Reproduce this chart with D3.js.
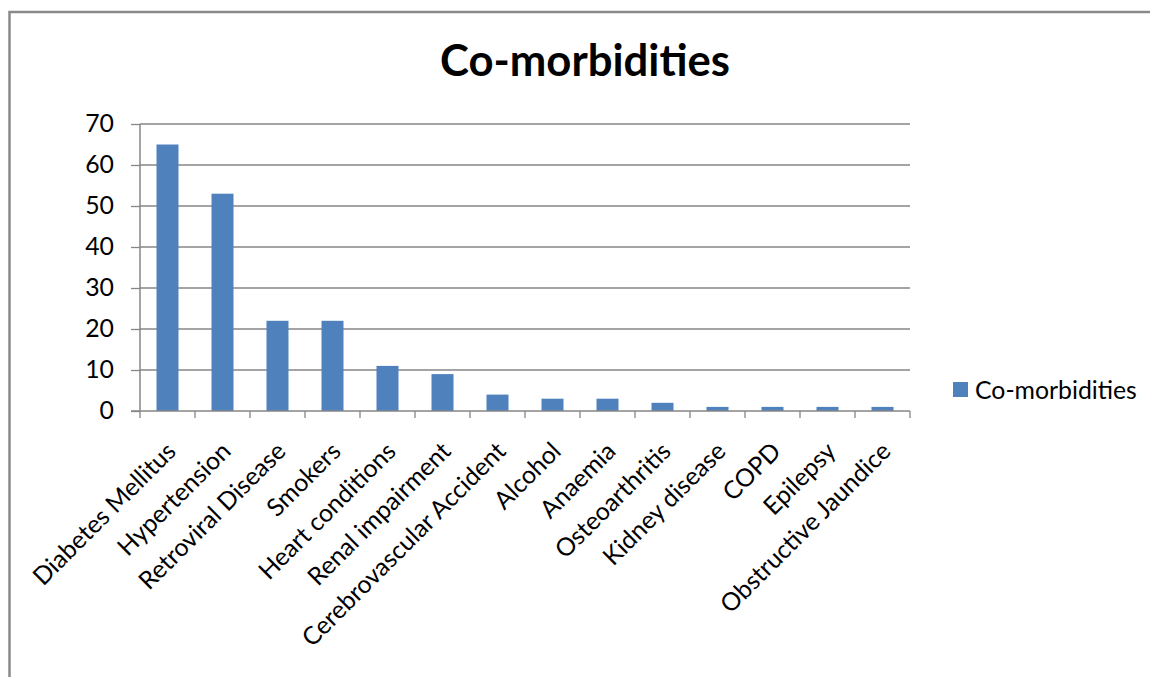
<!DOCTYPE html>
<html><head><meta charset="utf-8">
<script src="https://cdn.jsdelivr.net/npm/d3@7/dist/d3.min.js"></script>
<style>
html,body{margin:0;padding:0;background:#fff;}
svg{display:block;}
text{font-family:Lato, "Noto Sans", sans-serif;fill:#000;}
</style></head>
<body>
<svg id="chart" width="1150" height="677"></svg>
<script>
const categories = ["Diabetes Mellitus","Hypertension","Retroviral Disease","Smokers","Heart conditions","Renal impairment","Cerebrovascular Accident","Alcohol","Anaemia","Osteoarthritis","Kidney disease","COPD","Epilepsy","Obstructive Jaundice"];
const values = [65,53,22,22,11,9,4,3,3,2,1,1,1,1];
const yTicks = [0,10,20,30,40,50,60,70];
const seriesName = "Co-morbidities";
const titleText = "Co-morbidities";

(function(){
const svg = d3.select("#chart");
const pL = 140, pR = 910, pT = 124, pB = 411;
const gridColor = "#868686";
const barColor = "#4F81BD";

function fitSize(str, weight, target, base){
  const t = svg.append("text").attr("font-size", base).attr("font-weight", weight).text(str);
  const w = t.node().getComputedTextLength();
  t.remove();
  return base * target / w;
}
const labelSize = fitSize(seriesName, "normal", 162, 24);
const titleSize = fitSize(titleText, "bold", 290, 46);

svg.append("rect").attr("x",9.5).attr("y",12).attr("width",1300).attr("height",800)
  .attr("fill","none").attr("stroke","#8a8a8a").attr("stroke-width",2.5);

const x = d3.scaleBand().domain(categories).range([pL,pR]).paddingInner(0.6).paddingOuter(0.3);
const xb = d3.scaleBand().domain(categories).range([pL,pR]);
const y = d3.scaleLinear().domain([0,70]).range([pB,pT]);

svg.append("g").selectAll("line").data(yTicks.filter(d=>d>0)).join("line")
  .attr("x1",pL).attr("x2",pR).attr("y1",d=>y(d)).attr("y2",d=>y(d))
  .attr("stroke",gridColor).attr("stroke-width",1.3);

svg.append("g").selectAll("rect").data(values).join("rect")
  .attr("x",(d,i)=>x(categories[i])).attr("width",x.bandwidth())
  .attr("y",d=>y(d)).attr("height",d=>pB-y(d)).attr("fill",barColor);

const yAxis = d3.axisLeft(y).tickValues(yTicks).tickSize(9).tickPadding(17).tickFormat(d3.format("d"));
const gy = svg.append("g").attr("transform",`translate(${pL},0)`).call(yAxis);
gy.select(".domain").attr("stroke",gridColor).attr("stroke-width",1.5).attr("d",`M0,${pT}V${pB}`);
gy.selectAll(".tick line").attr("stroke",gridColor).attr("stroke-width",1.3);
gy.selectAll(".tick text").attr("font-size",labelSize).attr("font-family","Lato, sans-serif").attr("fill","#000");

const bounds = categories.map(c=>xb(c)).concat([pR]);
svg.append("line").attr("x1",pL-9).attr("x2",pR).attr("y1",pB).attr("y2",pB)
  .attr("stroke",gridColor).attr("stroke-width",1.5);
svg.append("g").selectAll("line").data(bounds).join("line")
  .attr("x1",d=>d).attr("x2",d=>d).attr("y1",pB).attr("y2",pB+7)
  .attr("stroke",gridColor).attr("stroke-width",1.3);

svg.append("g").selectAll("text").data(categories).join("text")
  .attr("transform",d=>`translate(${xb(d)+xb.bandwidth()/2+1},${pB+33}) rotate(-45)`)
  .attr("text-anchor","end").attr("dy","0.5em").attr("font-size",labelSize).text(d=>d);

svg.append("text").attr("x",585).attr("y",76).attr("text-anchor","middle")
  .attr("font-weight","bold").attr("font-size",titleSize).text(titleText);

svg.append("rect").attr("x",953).attr("y",382).attr("width",15).attr("height",15).attr("fill",barColor);
svg.append("text").attr("x",975).attr("y",390).attr("dy","0.35em").attr("font-size",labelSize).text(seriesName);
})();
</script>
</body></html>
